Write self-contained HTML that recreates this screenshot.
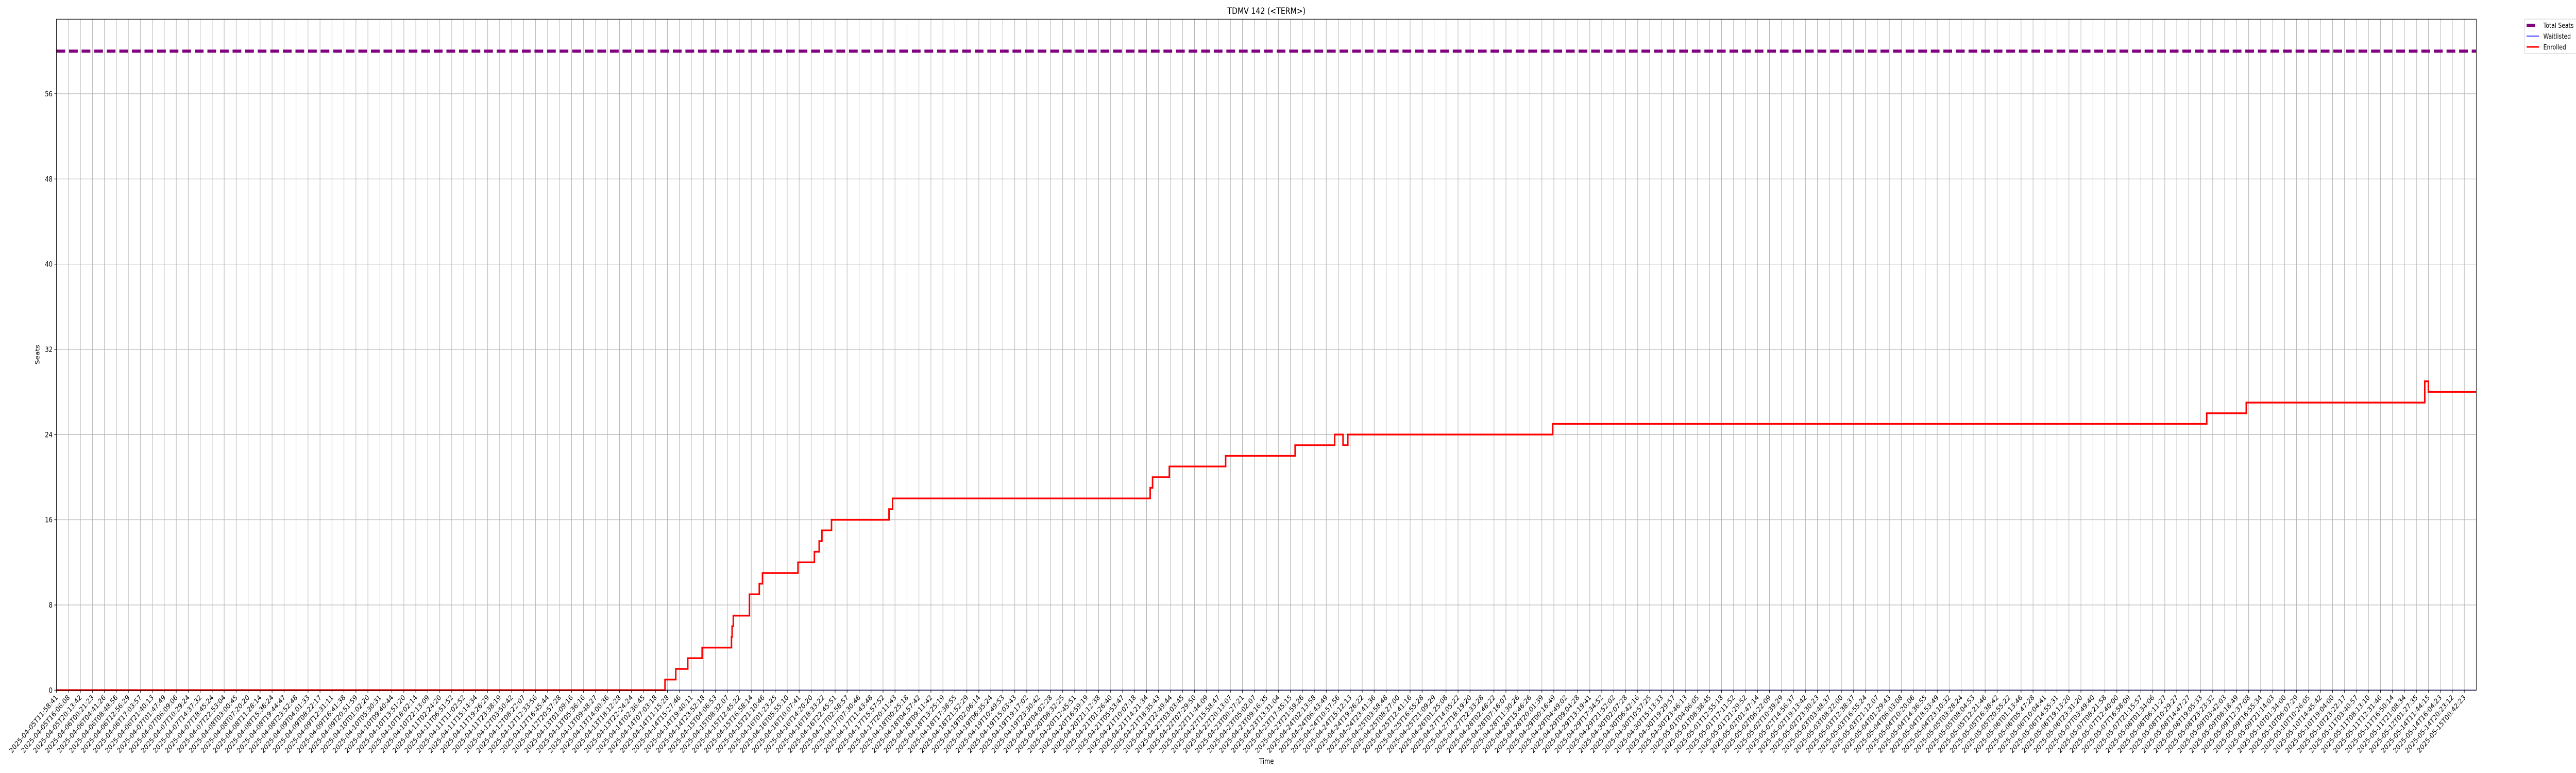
<!DOCTYPE html>
<html><head><meta charset="utf-8"><meta name="viewport" content="width=6000, initial-scale=1"><title>TDMV 142 (&lt;TERM&gt;)</title>
<style>
html,body{margin:0;padding:0;background:#fff;width:100vw;height:100vh;overflow:hidden;}
svg{display:block;font-family:"DejaVu Sans","Liberation Sans",sans-serif;overflow:hidden;width:100vw;height:100vh;}
</style></head>
<body>
<svg id="chart" xmlns="http://www.w3.org/2000/svg" viewBox="0 0 6000 1500" preserveAspectRatio="none" overflow="hidden">
<defs><clipPath id="frameclip"><rect x="0" y="0" width="6000" height="1500"/></clipPath></defs>
<rect x="0" y="0" width="6000" height="1500" fill="#fff"/>
<g id="grid"></g>
<g id="series"></g>
<g id="axes"></g>
<text x="2950" y="27" font-size="17" text-anchor="middle" fill="#000">TDMV 142 (&lt;TERM&gt;)</text>
<text x="2950" y="1482" font-size="14" text-anchor="middle" fill="#000">Time</text>
<text x="92" y="688" font-size="14" text-anchor="middle" fill="#000" transform="rotate(-90 92 688)">Seats</text>
<g clip-path="url(#frameclip)">
<rect x="5880" y="37" width="125" height="67" rx="3" fill="#fff" fill-opacity="0.8" stroke="#ccc" stroke-width="1"/>
<g>
<line x1="5885" y1="49" x2="5905" y2="49" stroke="#800080" stroke-width="6"/>
<text x="5924" y="54" font-size="13" fill="#000">Total Seats</text>
</g>
<g>
<line x1="5885" y1="70" x2="5914" y2="70" stroke="#0000ff" stroke-width="1.5"/>
<text x="5924" y="75" font-size="13" fill="#000">Waitlisted</text>
</g>
<g>
<line x1="5885" y1="91" x2="5914" y2="91" stroke="#ff0000" stroke-width="3"/>
<text x="5924" y="96" font-size="13" fill="#000">Enrolled</text>
</g>
</g>
</svg>
<script>
const tickLabels = ["2025-04-05T11:58:41","2025-04-05T16:06:08","2025-04-05T20:13:42","2025-04-06T00:21:23","2025-04-06T04:41:26","2025-04-06T08:48:56","2025-04-06T12:56:29","2025-04-06T17:03:57","2025-04-06T21:40:13","2025-04-07T01:47:49","2025-04-07T06:09:06","2025-04-07T10:29:24","2025-04-07T14:37:32","2025-04-07T18:45:24","2025-04-07T22:53:04","2025-04-08T03:00:45","2025-04-08T07:20:20","2025-04-08T11:28:14","2025-04-08T15:36:24","2025-04-08T19:44:47","2025-04-08T23:52:48","2025-04-09T04:01:33","2025-04-09T08:22:17","2025-04-09T12:31:11","2025-04-09T16:41:38","2025-04-09T20:51:59","2025-04-10T01:02:20","2025-04-10T05:30:31","2025-04-10T09:40:44","2025-04-10T13:51:20","2025-04-10T18:02:14","2025-04-10T22:13:09","2025-04-11T02:24:20","2025-04-11T06:51:52","2025-04-11T11:02:52","2025-04-11T15:14:34","2025-04-11T19:26:29","2025-04-11T23:38:19","2025-04-12T03:50:42","2025-04-12T08:22:07","2025-04-12T12:33:56","2025-04-12T16:45:44","2025-04-12T20:57:28","2025-04-13T01:09:16","2025-04-13T05:36:16","2025-04-13T09:48:27","2025-04-13T14:00:36","2025-04-13T18:12:28","2025-04-13T22:24:24","2025-04-14T02:36:45","2025-04-14T07:03:18","2025-04-14T11:15:28","2025-04-14T15:27:46","2025-04-14T19:40:11","2025-04-14T23:52:18","2025-04-15T04:06:53","2025-04-15T08:32:07","2025-04-15T12:45:22","2025-04-15T16:58:14","2025-04-15T21:10:46","2025-04-16T01:23:25","2025-04-16T05:55:10","2025-04-16T10:07:41","2025-04-16T14:20:20","2025-04-16T18:33:22","2025-04-16T22:45:51","2025-04-17T02:58:57","2025-04-17T07:30:46","2025-04-17T11:43:48","2025-04-17T15:57:52","2025-04-17T20:11:43","2025-04-18T00:25:18","2025-04-18T04:57:42","2025-04-18T09:11:42","2025-04-18T13:25:19","2025-04-18T17:38:55","2025-04-18T21:52:29","2025-04-19T02:06:14","2025-04-19T06:35:24","2025-04-19T10:49:53","2025-04-19T15:03:43","2025-04-19T19:17:02","2025-04-19T23:30:42","2025-04-20T04:02:28","2025-04-20T08:32:25","2025-04-20T12:45:51","2025-04-20T16:59:19","2025-04-20T21:12:38","2025-04-21T01:26:40","2025-04-21T05:53:47","2025-04-21T10:07:18","2025-04-21T14:21:34","2025-04-21T18:35:43","2025-04-21T22:49:44","2025-04-22T03:03:45","2025-04-22T07:29:50","2025-04-22T11:44:09","2025-04-22T15:58:47","2025-04-22T20:13:07","2025-04-23T00:27:21","2025-04-23T05:02:07","2025-04-23T09:16:35","2025-04-23T13:31:04","2025-04-23T17:45:15","2025-04-23T21:59:26","2025-04-24T02:13:58","2025-04-24T06:43:49","2025-04-24T10:57:56","2025-04-24T15:12:13","2025-04-24T19:26:22","2025-04-24T23:41:36","2025-04-25T03:58:48","2025-04-25T08:27:00","2025-04-25T12:41:16","2025-04-25T16:55:28","2025-04-25T21:09:29","2025-04-26T01:25:08","2025-04-27T14:05:22","2025-04-27T18:19:20","2025-04-27T22:33:28","2025-04-28T02:48:22","2025-04-28T07:16:07","2025-04-28T11:30:26","2025-04-28T15:46:26","2025-04-28T20:01:39","2025-04-29T00:16:49","2025-04-29T04:49:02","2025-04-29T09:04:28","2025-04-29T13:19:41","2025-04-29T17:34:52","2025-04-29T21:52:02","2025-04-30T02:07:28","2025-04-30T06:42:16","2025-04-30T10:57:25","2025-04-30T15:13:33","2025-04-30T19:29:57","2025-04-30T23:46:13","2025-05-01T04:06:05","2025-05-01T08:38:45","2025-05-01T12:55:18","2025-05-01T17:11:52","2025-05-01T21:29:52","2025-05-02T01:47:14","2025-05-02T06:22:09","2025-05-02T10:39:29","2025-05-02T14:56:37","2025-05-02T19:13:42","2025-05-02T23:30:23","2025-05-03T03:48:37","2025-05-03T08:22:00","2025-05-03T12:38:37","2025-05-03T16:55:24","2025-05-03T21:12:07","2025-05-04T01:29:43","2025-05-04T06:03:08","2025-05-04T10:20:06","2025-05-04T14:36:55","2025-05-04T18:53:49","2025-05-04T23:10:32","2025-05-05T03:28:24","2025-05-05T08:04:53","2025-05-05T12:21:46","2025-05-05T16:38:42","2025-05-05T20:55:22","2025-05-06T01:13:46","2025-05-06T05:47:28","2025-05-06T10:04:41","2025-05-06T14:55:31","2025-05-06T19:13:20","2025-05-06T23:31:20","2025-05-07T03:49:40","2025-05-07T08:21:58","2025-05-07T12:40:00","2025-05-07T16:58:09","2025-05-07T21:15:57","2025-05-08T01:34:06","2025-05-08T06:11:27","2025-05-08T10:29:27","2025-05-08T14:47:27","2025-05-08T19:05:33","2025-05-08T23:23:32","2025-05-09T03:42:03","2025-05-09T08:18:49","2025-05-09T12:37:08","2025-05-09T16:55:34","2025-05-09T21:14:03","2025-05-10T01:34:00","2025-05-10T06:07:29","2025-05-10T10:26:05","2025-05-10T14:45:42","2025-05-10T19:04:00","2025-05-10T23:22:17","2025-05-11T03:40:57","2025-05-11T08:13:10","2025-05-11T12:31:46","2025-05-11T16:50:14","2025-05-11T21:08:34","2025-05-12T01:27:35","2025-05-14T11:44:15","2025-05-14T16:04:23","2025-05-14T20:23:12","2025-05-15T00:42:23"];
const yTicks = [0, 8, 16, 24, 32, 40, 48, 56];
const totalSeats = 60;
const enrolledIdx = [0, 50.8, 51.7, 52.7, 53.9, 56.35, 56.4, 56.5, 57.85, 58.67, 58.94, 61.9, 63.27, 63.67, 63.9, 64.7, 69.5, 69.8, 91.3, 91.5, 92.9, 97.6, 103.4, 106.7, 107.4, 107.8, 124.9, 179.5, 182.8, 197.7, 198.0];
const enrolledVal = [0, 1, 2, 3, 4, 5, 6, 7, 9, 10, 11, 12, 13, 14, 15, 16, 17, 18, 19, 20, 21, 22, 23, 24, 23, 24, 25, 26, 27, 29, 28];
const waitlistIdx = [0, 202];
const waitlistVal = [0, 0];

const NS = "http://www.w3.org/2000/svg";
const L = 131.5, R = 5767.7, T = 37.3, B = 1339.3;
const xMax = 202, yMax = 63;
function xs(i){ return L + (R - L) * i / xMax; }
function ys(v){ return B - (B - T) * v / yMax; }
function mk(tag, attrs, parent){
  const el = document.createElementNS(NS, tag);
  for (const k in attrs) el.setAttribute(k, attrs[k]);
  parent.appendChild(el);
  return el;
}
const grid = document.getElementById('grid');
const axes = document.getElementById('axes');
const series = document.getElementById('series');

tickLabels.forEach((lab, i) => {
  const x = xs(i);
  const g = mk('line', {x1:x, y1:T, x2:x, y2:B, stroke:'#b0b0b0', 'stroke-width':1.1}, grid);
  
  
  const t = mk('line', {x1:x, y1:B, x2:x, y2:B+5, stroke:'#000', 'stroke-width':1.1}, axes);
  
  
  const tx = x + 4, ty = B + 15;
  const tl = mk('text', {x:tx, y:ty, 'font-size':14, 'text-anchor':'end', fill:'#000', transform:'rotate(-45 '+tx+' '+ty+')'}, axes);
  tl.textContent = lab;
  
  
});
yTicks.forEach(v => {
  const y = ys(v);
  const g = mk('line', {x1:L, y1:y, x2:R, y2:y, stroke:'#b0b0b0', 'stroke-width':1.1}, grid);
  
  
  const t = mk('line', {x1:L-5, y1:y, x2:L, y2:y, stroke:'#000', 'stroke-width':1.1}, axes);
  
  
  const tl = mk('text', {x:L-9, y:y+5, 'font-size':14, 'text-anchor':'end', fill:'#000'}, axes);
  tl.textContent = String(v);
  
  
});

const ts = mk('line', {x1:xs(0), y1:ys(totalSeats), x2:xs(xMax), y2:ys(totalSeats), stroke:'#800080', 'stroke-width':6, 'stroke-dasharray':'20.3 9'}, series);



function stepPath(idx, val, end){
  let d = 'M' + xs(idx[0]) + ' ' + ys(val[0]);
  for (let k = 1; k < idx.length; k++){
    d += ' L' + xs(idx[k]) + ' ' + ys(val[k-1]) + ' L' + xs(idx[k]) + ' ' + ys(val[k]);
  }
  d += ' L' + xs(end) + ' ' + ys(val[val.length-1]);
  return d;
}
const wl = mk('path', {d:stepPath(waitlistIdx, waitlistVal, xMax), fill:'none', stroke:'#0000ff', 'stroke-width':1.5}, series);


const en = mk('path', {d:stepPath(enrolledIdx, enrolledVal, xMax), fill:'none', stroke:'#ff0000', 'stroke-width':3.5, 'stroke-linejoin':'miter'}, series);



const frame = mk('rect', {x:L, y:T, width:R-L, height:B-T, fill:'none', stroke:'#000', 'stroke-width':1.1}, axes);


</script>
</body></html>
